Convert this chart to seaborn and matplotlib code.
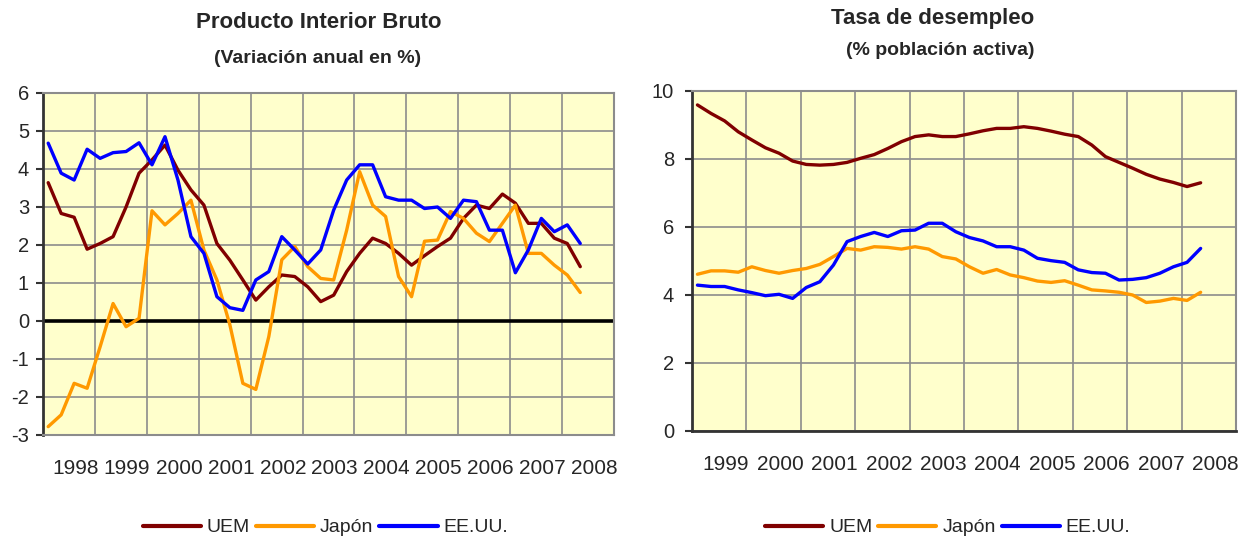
import numpy as np
import pandas as pd
import seaborn as sns
import matplotlib.pyplot as plt

# --- PIB: variacion anual en %, trimestral desde 1998.1 ---
pib_t = [1998.1 + 0.25 * i for i in range(42)]
pib_uem = [3.64, 2.83, 2.73, 1.89, 2.04, 2.22, 3.0, 3.89, 4.24, 4.63,
           3.97, 3.45, 3.05, 2.04, 1.6, 1.08, 0.55, 0.9, 1.21, 1.17,
           0.9, 0.51, 0.68, 1.3, 1.78, 2.18, 2.04, 1.78, 1.47, 1.72,
           1.96, 2.18, 2.7, 3.05, 2.96, 3.34, 3.1, 2.57, 2.57, 2.18,
           2.04, 1.43]
pib_jap = [-2.78, -2.47, -1.64, -1.77, -0.68, 0.46, -0.15, 0.07, 2.9, 2.53,
           2.83, 3.18, 1.87, 1.08, -0.1, -1.64, -1.8, -0.41, 1.61, 1.96,
           1.43, 1.12, 1.08, 2.39, 3.93, 3.05, 2.75, 1.17, 0.64, 2.1,
           2.13, 2.88, 2.7, 2.31, 2.09, 2.57, 3.05, 1.78, 1.78, 1.47,
           1.21, 0.75]
pib_usa = [4.68, 3.89, 3.71, 4.52, 4.28, 4.43, 4.46, 4.69, 4.11, 4.85,
           3.71, 2.22, 1.78, 0.64, 0.35, 0.28, 1.08, 1.3, 2.22, 1.87,
           1.5, 1.87, 2.92, 3.71, 4.11, 4.11, 3.27, 3.18, 3.18, 2.96,
           3.0, 2.7, 3.18, 3.14, 2.39, 2.39, 1.27, 1.87, 2.7, 2.35,
           2.53, 2.04]

# --- Tasa de desempleo (% poblacion activa), trimestral desde 1999.1 ---
par_t = [1999.1 + 0.25 * i for i in range(38)]
par_uem = [9.59, 9.34, 9.12, 8.8, 8.56, 8.33, 8.17, 7.94, 7.84, 7.82,
           7.84, 7.9, 8.02, 8.13, 8.31, 8.51, 8.66, 8.71, 8.66, 8.66,
           8.74, 8.83, 8.9, 8.9, 8.95, 8.9, 8.82, 8.73, 8.66, 8.41,
           8.07, 7.9, 7.73, 7.55, 7.41, 7.31, 7.19, 7.3]
par_jap = [4.61, 4.71, 4.71, 4.67, 4.83, 4.72, 4.64, 4.72, 4.78, 4.9,
           5.13, 5.37, 5.32, 5.42, 5.4, 5.35, 5.42, 5.35, 5.13, 5.06,
           4.83, 4.64, 4.75, 4.59, 4.51, 4.41, 4.37, 4.42, 4.29, 4.15,
           4.12, 4.08, 4.0, 3.78, 3.82, 3.9, 3.84, 4.08]
par_usa = [4.29, 4.25, 4.25, 4.15, 4.07, 3.98, 4.02, 3.9, 4.22, 4.39,
           4.88, 5.57, 5.72, 5.84, 5.72, 5.89, 5.91, 6.11, 6.11, 5.86,
           5.69, 5.59, 5.42, 5.42, 5.32, 5.08, 5.01, 4.96, 4.74, 4.66,
           4.64, 4.44, 4.46, 4.51, 4.64, 4.83, 4.96, 5.37]

series = ['UEM', 'Japón', 'EE.UU.']
colores = {'UEM': '#800000', 'Japón': '#FF9900', 'EE.UU.': '#0000FF'}

pib = pd.DataFrame({'t': pib_t, 'UEM': pib_uem, 'Japón': pib_jap, 'EE.UU.': pib_usa})
paro = pd.DataFrame({'t': par_t, 'UEM': par_uem, 'Japón': par_jap, 'EE.UU.': par_usa})
pib = pib.melt(id_vars='t', var_name='serie', value_name='v')
paro = paro.melt(id_vars='t', var_name='serie', value_name='v')

sns.set_style('white')
plt.rcParams['font.family'] = ['Liberation Sans', 'DejaVu Sans']
plt.rcParams['axes.unicode_minus'] = False

fig = plt.figure(figsize=(12.42, 5.44), dpi=100)
ax1 = fig.add_axes([43 / 1242, 109 / 544, 571 / 1242, 342 / 544])
ax2 = fig.add_axes([692 / 1242, 113 / 544, 544 / 1242, 340 / 544])


def estilo(ax, x0, x1, y0, y1, ystep):
    ax.set_facecolor('#FFFFCC')
    ax.set_xlim(x0, x1)
    ax.set_ylim(y0, y1)
    ax.set_xticks(np.arange(x0, x1 + 1))
    ax.set_xticks(np.arange(x0, x1) + 0.62, minor=True)
    ax.set_xticklabels([])
    ax.set_xticklabels([str(a) for a in range(x0, x1)], minor=True, fontsize=15)
    ax.set_yticks(np.arange(y0, y1 + 0.1, ystep))
    ax.tick_params(axis='x', which='both', length=0, pad=17)
    ax.tick_params(axis='y', length=5, width=1.5, color='#333333', pad=5, labelsize=14.5, left=True)
    ax.grid(True, which='major', color='#8c8c8c', linewidth=1.2)
    ax.set_axisbelow(True)
    for s in ['top', 'right', 'bottom']:
        ax.spines[s].set_color('#8c8c8c')
        ax.spines[s].set_linewidth(1.5)
    ax.spines['left'].set_color('#333333')
    ax.spines['left'].set_linewidth(2)
    ax.set_xlabel('')
    ax.set_ylabel('')


sns.lineplot(data=pib, x='t', y='v', hue='serie', hue_order=series, palette=colores,
             linewidth=2.4, ax=ax1, legend=False, zorder=3)
ax1.axhline(0, color='black', linewidth=2.6, zorder=2)
estilo(ax1, 1998, 2009, -3, 6, 1)

sns.lineplot(data=paro, x='t', y='v', hue='serie', hue_order=series, palette=colores,
             linewidth=2.4, ax=ax2, legend=False, zorder=3)
estilo(ax2, 1999, 2009, 0, 10, 2)
ax2.spines['bottom'].set_color('#333333')
ax2.spines['bottom'].set_linewidth(2)
ax2.tick_params(axis='y', pad=8)

fig.text(0.257, 0.958, 'Producto Interior Bruto', ha='center', va='center',
         fontsize=16, fontweight='bold')
fig.text(0.256, 0.893, '(Variación anual en %)', ha='center', va='center',
         fontsize=14, fontweight='bold')
fig.text(0.751, 0.966, 'Tasa de desempleo', ha='center', va='center',
         fontsize=16, fontweight='bold')
fig.text(0.757, 0.908, '(% población activa)', ha='center', va='center',
         fontsize=14, fontweight='bold')

handles = [plt.Line2D([], [], color=colores[s], linewidth=3) for s in series]
for cx in (0.262, 0.763):
    fig.legend(handles, series, loc='center', bbox_to_anchor=(cx, 0.03), ncol=3,
               frameon=False, fontsize=14, handlelength=3.0, handletextpad=0.3,
               columnspacing=0.3)

fig.savefig('out.png', dpi=100)
